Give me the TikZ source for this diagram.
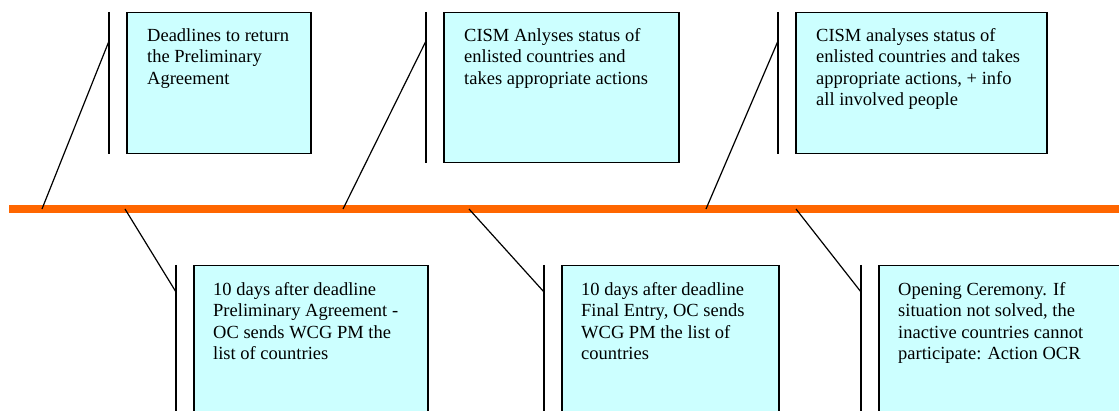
\documentclass[tikz,border=0pt]{standalone}
\usepackage{fontspec}
\setmainfont{Liberation Serif}
\usetikzlibrary{positioning}
\definecolor{boxcyan}{HTML}{CCFFFF}
\definecolor{lineorange}{HTML}{FF6600}
\tikzset {
  % event box on the timeline
  event/.style = {
    draw = black,
    fill = boxcyan,
    line width = 1.5pt,
    rectangle,
    anchor = north west,
    inner sep = 0
  },
  % text inside an event box
  note/.style = {
    anchor = north west,
    align = left,
    inner sep = 0,
    font = \fontsize{18.5}{21.5}\selectfont
  },
  bar/.style = {
    draw = black,
    line width = 1.6pt
  },
  leader/.style = {
    draw = black,
    line width = 1.2pt
  },
  timeline/.style = {
    draw = lineorange,
    line width = 7.5pt
  }
}

\begin{document}
\begin{tikzpicture}[x=1pt, y=-1pt]
    \useasboundingbox (0,0) rectangle (1119,411);
    \clip (0,0) rectangle (1119,411);

    \coordinate (tl-start) at (9,209);
    \coordinate (tl-end) at (1125,209);
    \draw[timeline] (tl-start) -- (tl-end);

    % boxes above the line
    \node[event, minimum width=184pt, minimum height=141pt] at (126,12) (prelim) {};
    \node[event, minimum width=235pt, minimum height=150pt] at (443,12) (status) {};
    \node[event, minimum width=251pt, minimum height=141pt] at (795,12) (info) {};
    % boxes below the line
    \node[event, minimum width=234pt, minimum height=180pt] at (193,265) (listpa) {};
    \node[event, minimum width=217pt, minimum height=180pt] at (561,265) (listfe) {};
    \node[event, minimum width=260pt, minimum height=180pt] at (878,265) (opening) {};

    \node[note] at ([shift={(21pt,-16pt)}]prelim.north west) (prelim-text)
    {Deadlines to return\\the Preliminary\\Agreement};
    \node[note] at ([shift={(21pt,-16pt)}]status.north west) (status-text)
    {CISM Anlyses status of\\enlisted countries and\\takes appropriate actions};
    \node[note] at ([shift={(21pt,-16pt)}]info.north west) (info-text)
    {CISM analyses status of\\enlisted countries and takes\\appropriate actions, + info\\all involved people};
    \node[note] at ([shift={(20pt,-17pt)}]listpa.north west) (listpa-text)
    {10 days after deadline\\Preliminary Agreement -\\OC sends WCG PM the\\list of countries};
    \node[note] at ([shift={(20pt,-17pt)}]listfe.north west) (listfe-text)
    {10 days after deadline\\Final Entry, OC sends\\WCG PM the list of\\countries};
    \node[note] at ([shift={(20pt,-17pt)}]opening.north west) (opening-text)
    {Opening Ceremony. If\\situation not solved, the\\inactive countries cannot\\participate: Action OCR};

    % points on the timeline
    \coordinate (t-prelim) at (42,209);
    \coordinate (t-listpa) at (125,209);
    \coordinate (t-status) at (343,209);
    \coordinate (t-listfe) at (469,209);
    \coordinate (t-info) at (706,209);
    \coordinate (t-opening) at (796,209);

    \foreach \ev in {prelim, status, info} {
      \draw[bar] ([xshift=-17pt]\ev.north west) -- ([xshift=-17pt]\ev.south west);
      \coordinate (\ev-joint) at ([shift={(-17pt,-29pt)}]\ev.north west);
      \draw[leader] (t-\ev) -- (\ev-joint);
    }
    \foreach \ev in {listpa, listfe, opening} {
      \draw[bar] ([xshift=-17pt]\ev.north west) -- ([xshift=-17pt]\ev.south west);
      \coordinate (\ev-joint) at ([shift={(-17pt,-27pt)}]\ev.north west);
      \draw[leader] (t-\ev) -- (\ev-joint);
    }
  \end{tikzpicture}
\end{document}
